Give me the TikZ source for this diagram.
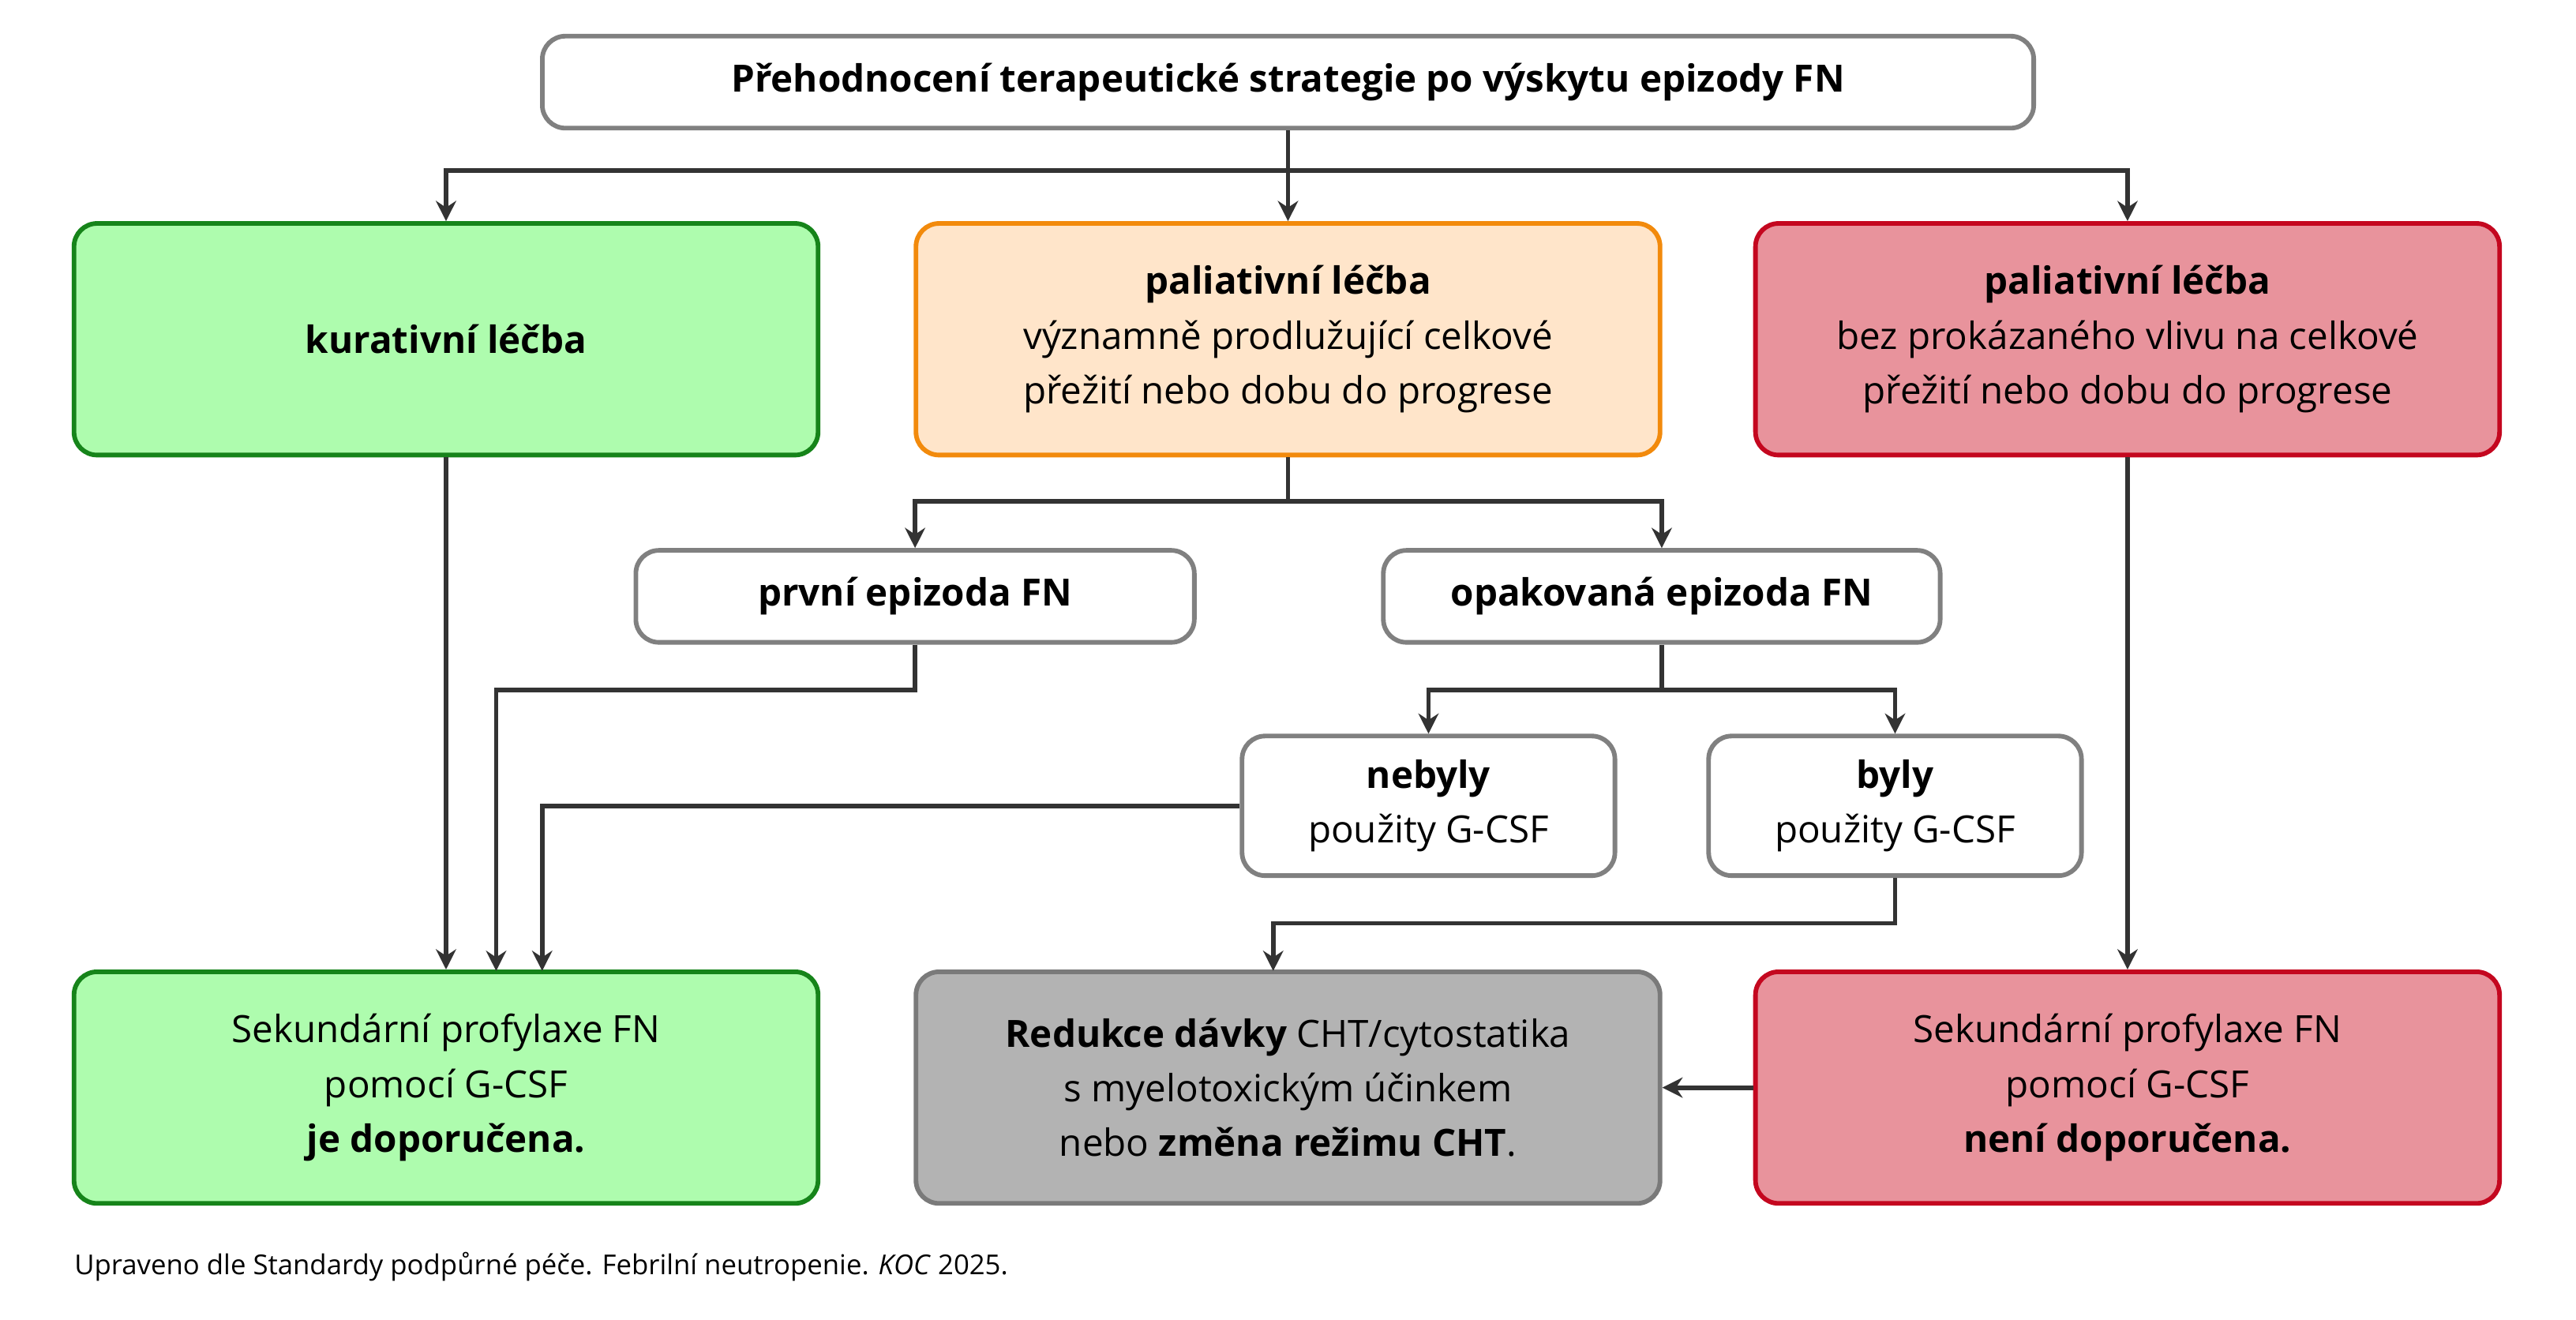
\documentclass[tikz,border=0pt]{standalone}
\usepackage{fontspec}
\setmainfont{Open Sans}
\usetikzlibrary{arrows.meta, positioning}
\definecolor{grnfill}{HTML}{AEFCAE}
\definecolor{grnline}{HTML}{16841A}
\definecolor{orgfill}{HTML}{FFE5CA}
\definecolor{orgline}{HTML}{F28A0C}
\definecolor{redfill}{HTML}{E8939C}
\definecolor{redline}{HTML}{C4071F}
\definecolor{gryfill}{HTML}{B3B3B3}
\definecolor{gryline}{HTML}{7A7A7A}
\definecolor{wline}{HTML}{808080}
\definecolor{arrcol}{HTML}{333333}
\begin{document}
\begin{tikzpicture}[x=0.02cm, y=-0.02cm,
    box/.style={draw, rounded corners=8pt, line width=1.6pt, align=center, font=\fontsize{13}{19}\selectfont, inner sep=0pt},
    big/.style={box, minimum width=9.06cm, minimum height=2.82cm},
    wbox/.style={box, draw=wline, fill=white},
    arr/.style={-{Stealth[length=7pt, width=7pt]}, line width=1.6pt, draw=arrcol},
    ln/.style={line width=1.6pt, draw=arrcol},
  ]
  \useasboundingbox (0,0) rectangle (1568,803);

  \node[wbox, minimum width=18.16cm, minimum height=1.12cm] (top) at (784,50) {\textbf{Přehodnocení terapeutické strategie po výskytu epizody FN}};

  \node[big, draw=grnline, fill=grnfill] (kur) at (271.5,206.5) {\textbf{kurativní léčba}};
  \node[big, draw=orgline, fill=orgfill] (pal) at (784,206.5) {\textbf{paliativní léčba}\\významně prodlužující celkové\\přežití nebo dobu do progrese};
  \node[big, draw=redline, fill=redfill] (palb) at (1295,206.5) {\textbf{paliativní léčba}\\bez prokázaného vlivu na celkové\\přežití nebo dobu do progrese};

  \node[wbox, minimum width=6.8cm, minimum height=1.12cm] (prv) at (557,363) {\textbf{první epizoda FN}};
  \node[wbox, minimum width=6.78cm, minimum height=1.12cm] (opak) at (1011.5,363) {\textbf{opakovaná epizoda FN}};

  \node[wbox, minimum width=4.54cm, minimum height=1.7cm] (neb) at (869.5,490.5) {\textbf{nebyly}\\použity G-CSF};
  \node[wbox, minimum width=4.54cm, minimum height=1.7cm] (byl) at (1153.5,490.5) {\textbf{byly}\\použity G-CSF};

  \node[big, draw=grnline, fill=grnfill] (sekg) at (271.5,662) {Sekundární profylaxe FN\\pomocí G-CSF\\\textbf{je doporučena.}};
  \node[big, draw=gryline, fill=gryfill] (red) at (784,662) {\textbf{Redukce dávky} CHT/cytostatika\\s myelotoxickým účinkem\\nebo \textbf{změna režimu CHT}.};
  \node[big, draw=redline, fill=redfill] (sekr) at (1295,662) {Sekundární profylaxe FN\\pomocí G-CSF\\\textbf{není doporučena.}};

  \node[anchor=west, font=\fontsize{9.5}{12}\selectfont, inner sep=0pt] (note) at (45,771) {Upraveno dle Standardy podpůrné péče. Febrilní neutropenie. \textit{KOC} 2025.};

  % top level
  \draw[ln] (top.south) -- (784,104);
  \draw[arr] (784,104) -| (kur.north);
  \draw[arr] (784,104) -- (pal.north);
  \draw[arr] (784,104) -| (palb.north);

  % side branches
  \draw[arr] (kur.south) -- (sekg.north);
  \draw[arr] (palb.south) -- (sekr.north);

  \draw[ln] (pal.south) -- (784,305);
  \draw[arr] (784,305) -| (prv.north);
  \draw[arr] (784,305) -| (opak.north);

  \draw[arr] (prv.south) |- (302,420) -- (302,591);

  \draw[ln] (opak.south) -- (1011.5,420);
  \draw[arr] (1011.5,420) -| (neb.north);
  \draw[arr] (1011.5,420) -| (byl.north);

  \draw[arr] (neb.west) -| (330,591);
  \draw[arr] (byl.south) |- (775,562) -- (775,591);

  \draw[arr] (sekr.west) -- (red.east);
\end{tikzpicture}
\end{document}
